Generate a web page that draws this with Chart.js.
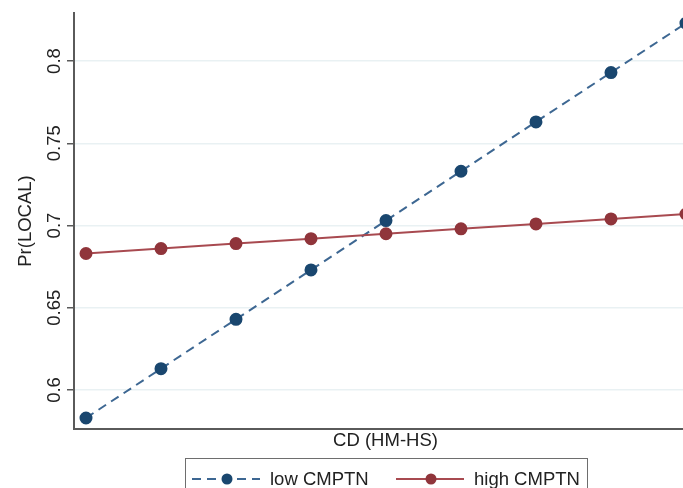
<!DOCTYPE html>
<html>
<head>
<meta charset="utf-8">
<script src="https://cdn.jsdelivr.net/npm/chart.js@4.4.1/dist/chart.umd.min.js"></script>
<style>
  html, body { margin: 0; padding: 0; background: #fff; overflow: hidden; width: 683px; height: 488px; }
  #wrap { position: relative; width: 710px; height: 488px; }
  #legend {
    position: absolute; left: 185px; top: 458px; width: 403px; height: 44px;
    border: 1.5px solid #6e6e6e; box-sizing: border-box;
    font-family: "Liberation Sans", Arial, sans-serif; font-size: 18.5px; color: #222;
  }
  .item { position: absolute; top: 8px; height: 24px; display: flex; align-items: center; }
  .item svg { margin-right: 10px; }
</style>
</head>
<body>
<div id="wrap">
  <canvas id="chart" width="710" height="488"></canvas>
  <div id="legend"></div>
</div>
<script>
// x positions (unlabelled steps of CD)
const cdSteps = [0, 1, 2, 3, 4, 5, 6, 7, 8];

// Pr(LOCAL) by group
const lowCmptn = [0.583, 0.613, 0.643, 0.673, 0.703, 0.733, 0.763, 0.793, 0.823];
const highCmptn = [0.683, 0.686, 0.689, 0.692, 0.695, 0.698, 0.701, 0.704, 0.707];

const seriesNames = ['low CMPTN', 'high CMPTN'];
const yTicks = [0.6, 0.65, 0.7, 0.75, 0.8];
const yTickLabels = ['0.6', '0.65', '0.7', '0.75', '0.8'];

const navy = '#1a476f';
const navyLine = '#3d6792';
const maroon = '#90353b';
const maroonLine = '#a84a50';
const font = "'Liberation Sans', Arial, sans-serif";

function pts(vals) {
  return cdSteps.map((x, i) => ({ x: x, y: vals[i] }));
}

const chart = new Chart(document.getElementById('chart'), {
  type: 'line',
  data: {
    datasets: [
      {
        label: seriesNames[0],
        data: pts(lowCmptn),
        borderColor: navyLine,
        borderWidth: 2,
        borderDash: [9, 6],
        pointBackgroundColor: navy,
        pointBorderColor: navy,
        pointRadius: 5.5,
        tension: 0,
        order: 2
      },
      {
        label: seriesNames[1],
        data: pts(highCmptn),
        borderColor: maroonLine,
        borderWidth: 2,
        pointBackgroundColor: maroon,
        pointBorderColor: maroon,
        pointRadius: 5.5,
        tension: 0,
        order: 1
      }
    ]
  },
  options: {
    responsive: false,
    devicePixelRatio: 1,
    animation: false,
    layout: { padding: { top: 13, right: 13, left: 0, bottom: 0 } },
    plugins: { legend: { display: false }, tooltip: { enabled: false } },
    scales: {
      x: {
        type: 'linear',
        min: -0.16,
        max: 8.147,
        grid: { display: false },
        border: { display: true, color: '#5a5a5a', width: 2 },
        ticks: { display: false },
        title: {
          display: true,
          text: 'CD (HM-HS)',
          color: '#222',
          font: { family: font, size: 18.5 },
          padding: { top: 0, bottom: 36 }
        },
        afterFit: s => { s.height = 59; }
      },
      y: {
        min: 0.5763,
        max: 0.8292,
        afterBuildTicks: s => { s.ticks = yTicks.map(v => ({ value: v })); },
        grid: { color: '#e9f1f3', lineWidth: 1.5, tickColor: '#5a5a5a', tickLength: 7, tickWidth: 1.5 },
        border: { display: true, color: '#5a5a5a', width: 2 },
        ticks: {
          color: '#222',
          font: { family: font, size: 18.5 },
          minRotation: 90,
          maxRotation: 90,
          crossAlign: 'center',
          padding: -6,
          callback: (v, i) => yTickLabels[i]
        },
        title: {
          display: true,
          text: 'Pr(LOCAL)',
          color: '#222',
          font: { family: font, size: 18.5 },
          padding: { top: 15, bottom: 0 }
        },
        afterFit: s => { s.width = 74; }
      }
    }
  }
});

// legend built from the dataset styles
const legendPos = [{ left: 6 }, { left: 210 }];
const legend = document.getElementById('legend');
chart.data.datasets.forEach((ds, i) => {
  const item = document.createElement('div');
  item.className = 'item';
  item.style.left = legendPos[i].left + 'px';
  const dash = ds.borderDash ? 'stroke-dasharray="9 6"' : '';
  item.innerHTML =
    '<svg width="68" height="14"><line x1="0" y1="7" x2="68" y2="7" stroke="' + ds.borderColor +
    '" stroke-width="2" ' + dash + '/><circle cx="35" cy="7" r="5.5" fill="' + ds.pointBackgroundColor +
    '"/></svg><span>' + ds.label + '</span>';
  legend.appendChild(item);
});
</script>
</body>
</html>
